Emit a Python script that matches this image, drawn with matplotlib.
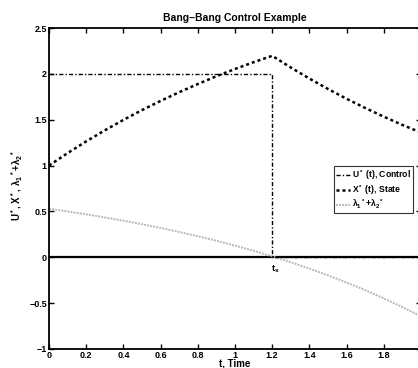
import matplotlib
matplotlib.use("Agg")
import matplotlib.pyplot as plt

plt.rcParams['font.family'] = ['Liberation Sans', 'DejaVu Sans']
plt.rcParams['font.weight'] = 'bold'
plt.rcParams['mathtext.fontset'] = 'custom'
plt.rcParams['mathtext.rm'] = 'Liberation Sans:bold'
plt.rcParams['mathtext.it'] = 'Liberation Sans:bold'
plt.rcParams['mathtext.bf'] = 'Liberation Sans:bold'

# Control U*(t)
t_u = [0, 1.2, 1.2, 2.0]
u_vals = [2, 2, 0, 0]

# State X*(t)
t_x = [0, 0.1, 0.2, 0.3, 0.4, 0.5, 0.6, 0.7, 0.8, 0.9, 1.0, 1.1, 1.2,
       1.3, 1.4, 1.5, 1.6, 1.7, 1.8, 1.9, 2.0]
x_vals = [1.000, 1.136, 1.264, 1.384, 1.498, 1.605, 1.705, 1.800, 1.889, 1.974,
          2.053, 2.127, 2.197, 2.069, 1.949, 1.835, 1.728, 1.628, 1.533, 1.443, 1.360]

# lambda1* + lambda2*
lam_vals = [0.530, 0.500, 0.469, 0.435, 0.399, 0.361, 0.320, 0.276, 0.230, 0.180,
            0.127, 0.071, 0.010, -0.054, -0.123, -0.197, -0.275, -0.358, -0.448,
            -0.543, -0.644]

# zero reference line
t_zero = [0, 2]
zero_vals = [0, 0]

x_ticks = [0, 0.2, 0.4, 0.6, 0.8, 1, 1.2, 1.4, 1.6, 1.8, 2]
x_ticklabels = ['0', '0.2', '0.4', '0.6', '0.8', '1', '1.2', '1.4', '1.6', '1.8', '']
y_ticks = [-1, -0.5, 0, 0.5, 1, 1.5, 2, 2.5]
y_ticklabels = ['\u22121', '\u22120.5', '0', '0.5', '1', '1.5', '2', '2.5']

fig = plt.figure(figsize=(4.18, 3.68), dpi=100)
ax = fig.add_axes([49/418, 19/368, (421-49)/418, (349-28)/368])

ax.plot(t_zero, zero_vals, color='black', lw=1.6, zorder=1)
lu, = ax.plot(t_u, u_vals, color='black', lw=1.0, linestyle=(0, (3, 1.5, 1, 1.5)),
              label='U$^*$ (t), Control', zorder=3)
lx, = ax.plot(t_x, x_vals, color='black', lw=1.8, linestyle=(0, (1.2, 1.2)),
              label='X$^*$ (t), State', zorder=3)
ll, = ax.plot(t_x, lam_vals, color='#b8b8b8', lw=1.4, linestyle=(0, (1, 0.6)),
              label='$\\lambda_1$$^*$+$\\lambda_2$$^*$', zorder=2)

ax.set_xlim(0, 2)
ax.set_ylim(-1, 2.5)
ax.set_xticks(x_ticks)
ax.set_xticklabels(x_ticklabels)
ax.set_yticks(y_ticks)
ax.set_yticklabels(y_ticklabels)
ax.tick_params(direction='in', length=3.5, width=1.0, top=True, right=True,
               labelsize=6.5, pad=1.5)
for s in ax.spines.values():
    s.set_linewidth(1.3)

ax.set_title('Bang\u2013Bang Control Example', fontsize=7.5, fontweight='bold', pad=5)
ax.set_xlabel('t, Time', fontsize=7, fontweight='bold', labelpad=-1)
ax.set_ylabel('U$^*$, X$^*$, $\\lambda_1$$^*$+$\\lambda_2$$^*$', fontsize=7,
              fontweight='bold')
ax.yaxis.set_label_coords((25 - 49) / 372, (349 - 185) / 321)

ax.text(1.193, -0.07, 't$_s$', fontsize=6.5, fontweight='bold', ha='left', va='top')

leg = ax.legend(handles=[lu, lx, ll], loc='upper right',
                bbox_to_anchor=((413-49)/(421-49), (349-166)/(349-28)),
                fontsize=6.2, frameon=True, fancybox=False, edgecolor='black',
                handlelength=1.6, handletextpad=0.2, borderpad=0.25,
                labelspacing=0.15, borderaxespad=0)
leg.get_frame().set_linewidth(0.8)
for t in leg.get_texts():
    t.set_fontweight('bold')

fig.savefig('out.png', dpi=100)
